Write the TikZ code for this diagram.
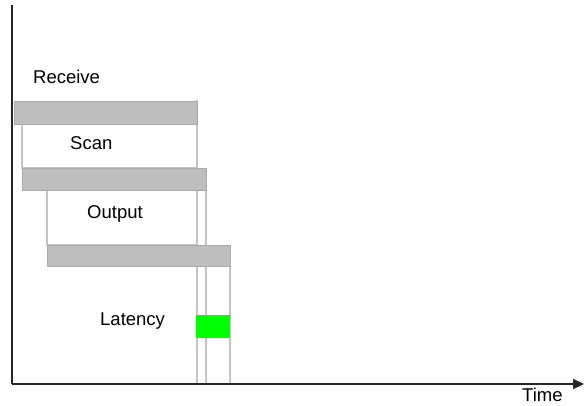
\documentclass[tikz,border=0pt]{standalone}
\usepackage{fontspec}
\setmainfont{Liberation Sans}
\usetikzlibrary{arrows.meta}
\definecolor{barfill}{HTML}{BEBEBE}
\definecolor{lineg}{HTML}{C4C4C4}
\definecolor{latgreen}{HTML}{00FF00}
\begin{document}
\begin{tikzpicture}[x=1pt,y=-1pt,
  bar/.style={fill=barfill,draw=barfill!90!black,line width=0.8pt},
  frame/.style={draw=lineg,line width=1.4pt},
  guide/.style={draw=lineg,line width=1.4pt},
  lbl/.style={font=\fontsize{18.5}{21}\selectfont,inner sep=0pt,anchor=west},
  axis/.style={line width=2.2pt,black!85}]
\useasboundingbox (0,0) rectangle (584,406);
% boxes
\draw[frame] (22,124) rectangle (197,168);
\draw[frame] (47,190) rectangle (197,245);
% guides
\draw[guide] (197,100) -- (197,384);
\draw[guide] (206,168) -- (206,384);
\draw[guide] (230,245) -- (230,384);
% bars
\node[bar,minimum width=183pt,minimum height=23pt,inner sep=0pt,anchor=north west] (recv) at (14,101) {};
\node[bar,minimum width=184pt,minimum height=22pt,inner sep=0pt,anchor=north west] (scanb) at (22,168) {};
\node[bar,minimum width=183pt,minimum height=21pt,inner sep=0pt,anchor=north west] (outb) at (47,245) {};
% latency
\node[fill=latgreen,minimum width=34pt,minimum height=23pt,inner sep=0pt,anchor=north west] (lat) at (196,315) {};
% labels
\node[lbl] (lrecv) at (33,77) {Receive};
\node[lbl] (lscan) at (70,143) {Scan};
\node[lbl] (lout) at (87,214) {Output};
\node[lbl] (llat) at (100,321) {Latency};
\node[lbl] (ltime) at (522,395) {Time};
% axes
\coordinate (o) at (12,384);
\coordinate (top) at (12,5);
\coordinate (xe) at (584,384);
\draw[axis] (top) -- (o);
\draw[axis,-{Triangle[length=11pt,width=10pt]}] (o) -- (xe);
\end{tikzpicture}
\end{document}
